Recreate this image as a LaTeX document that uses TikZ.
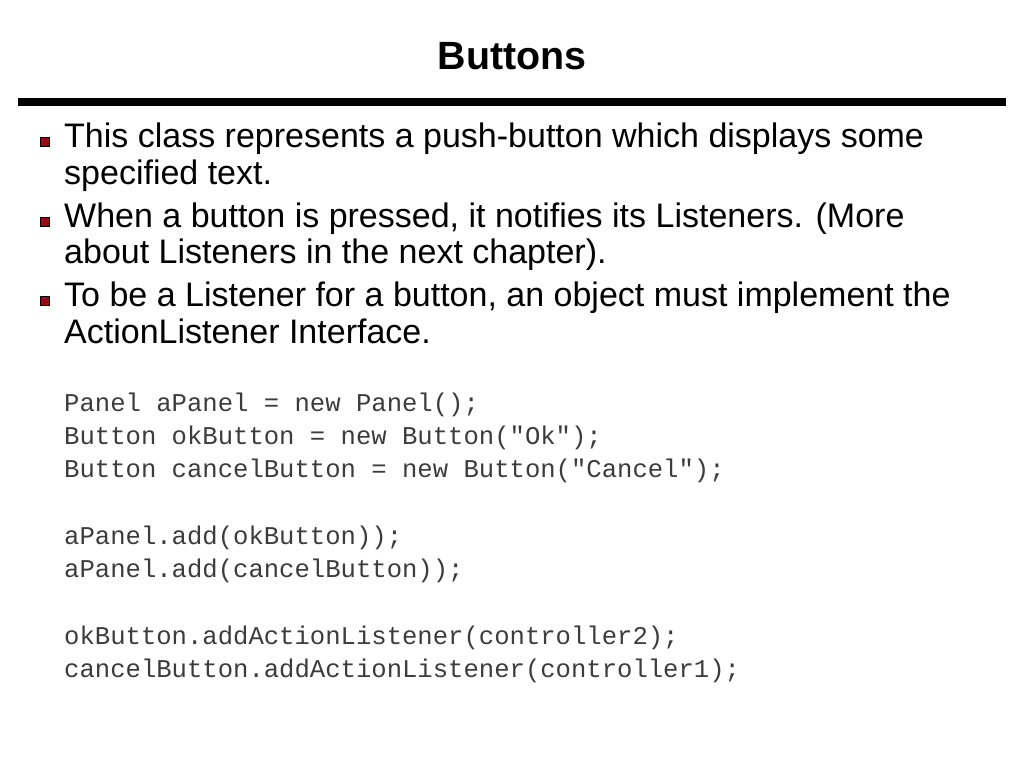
\documentclass[tikz,border=0pt]{standalone}
\usepackage{fontspec}
\setmainfont{Liberation Sans}
\setmonofont{Liberation Mono}
\usetikzlibrary{positioning}
\definecolor{bulletred}{RGB}{150,10,20}
\definecolor{codegray}{RGB}{60,60,60}
\tikzset{
  bodytext/.style={anchor=base west,inner sep=0pt,font=\fontsize{34}{37}\selectfont},
  codetext/.style={anchor=base west,inner sep=0pt,text=codegray,font=\ttfamily\fontsize{25.6}{33}\selectfont},
  bulletbox/.style={draw=black,fill=bulletred,line width=0.8pt,minimum size=9.5pt,inner sep=0pt}
}
\begin{document}
\begin{tikzpicture}[x=1pt,y=-1pt]
  \useasboundingbox (0,0) rectangle (1024,768);
  \node[anchor=base,inner sep=0pt,font=\bfseries\fontsize{39.4}{44}\selectfont] (title) at (512,70) {Buttons};
  \fill (18,98) rectangle (1006,106);

  % bullet points
  \foreach \y in {142,222,301}
    \node[bulletbox] at (45,\y) {};
  \node[bodytext] (b1a) at (64,147) {This class represents a push-button which displays some};
  \node[bodytext] (b1b) at (64,184) {specified text.};
  \node[bodytext] (b2a) at (64,227) {When a button is pressed, it notifies its Listeners. (More};
  \node[bodytext] (b2b) at (64,263) {about Listeners in the next chapter).};
  \node[bodytext] (b3a) at (64,306) {To be a Listener for a button, an object must implement the};
  \node[bodytext] (b3b) at (64,343) {ActionListener Interface.};

  % code
  \node[codetext] (c1) at (64,411) {Panel aPanel = new Panel();};
  \node[codetext] (c2) at (64,444) {Button okButton = new Button("Ok");};
  \node[codetext] (c3) at (64,477) {Button cancelButton = new Button("Cancel");};
  \node[codetext] (c4) at (64,544) {aPanel.add(okButton));};
  \node[codetext] (c5) at (64,577) {aPanel.add(cancelButton));};
  \node[codetext] (c6) at (64,644) {okButton.addActionListener(controller2);};
  \node[codetext] (c7) at (64,677) {cancelButton.addActionListener(controller1);};
\end{tikzpicture}
\end{document}
